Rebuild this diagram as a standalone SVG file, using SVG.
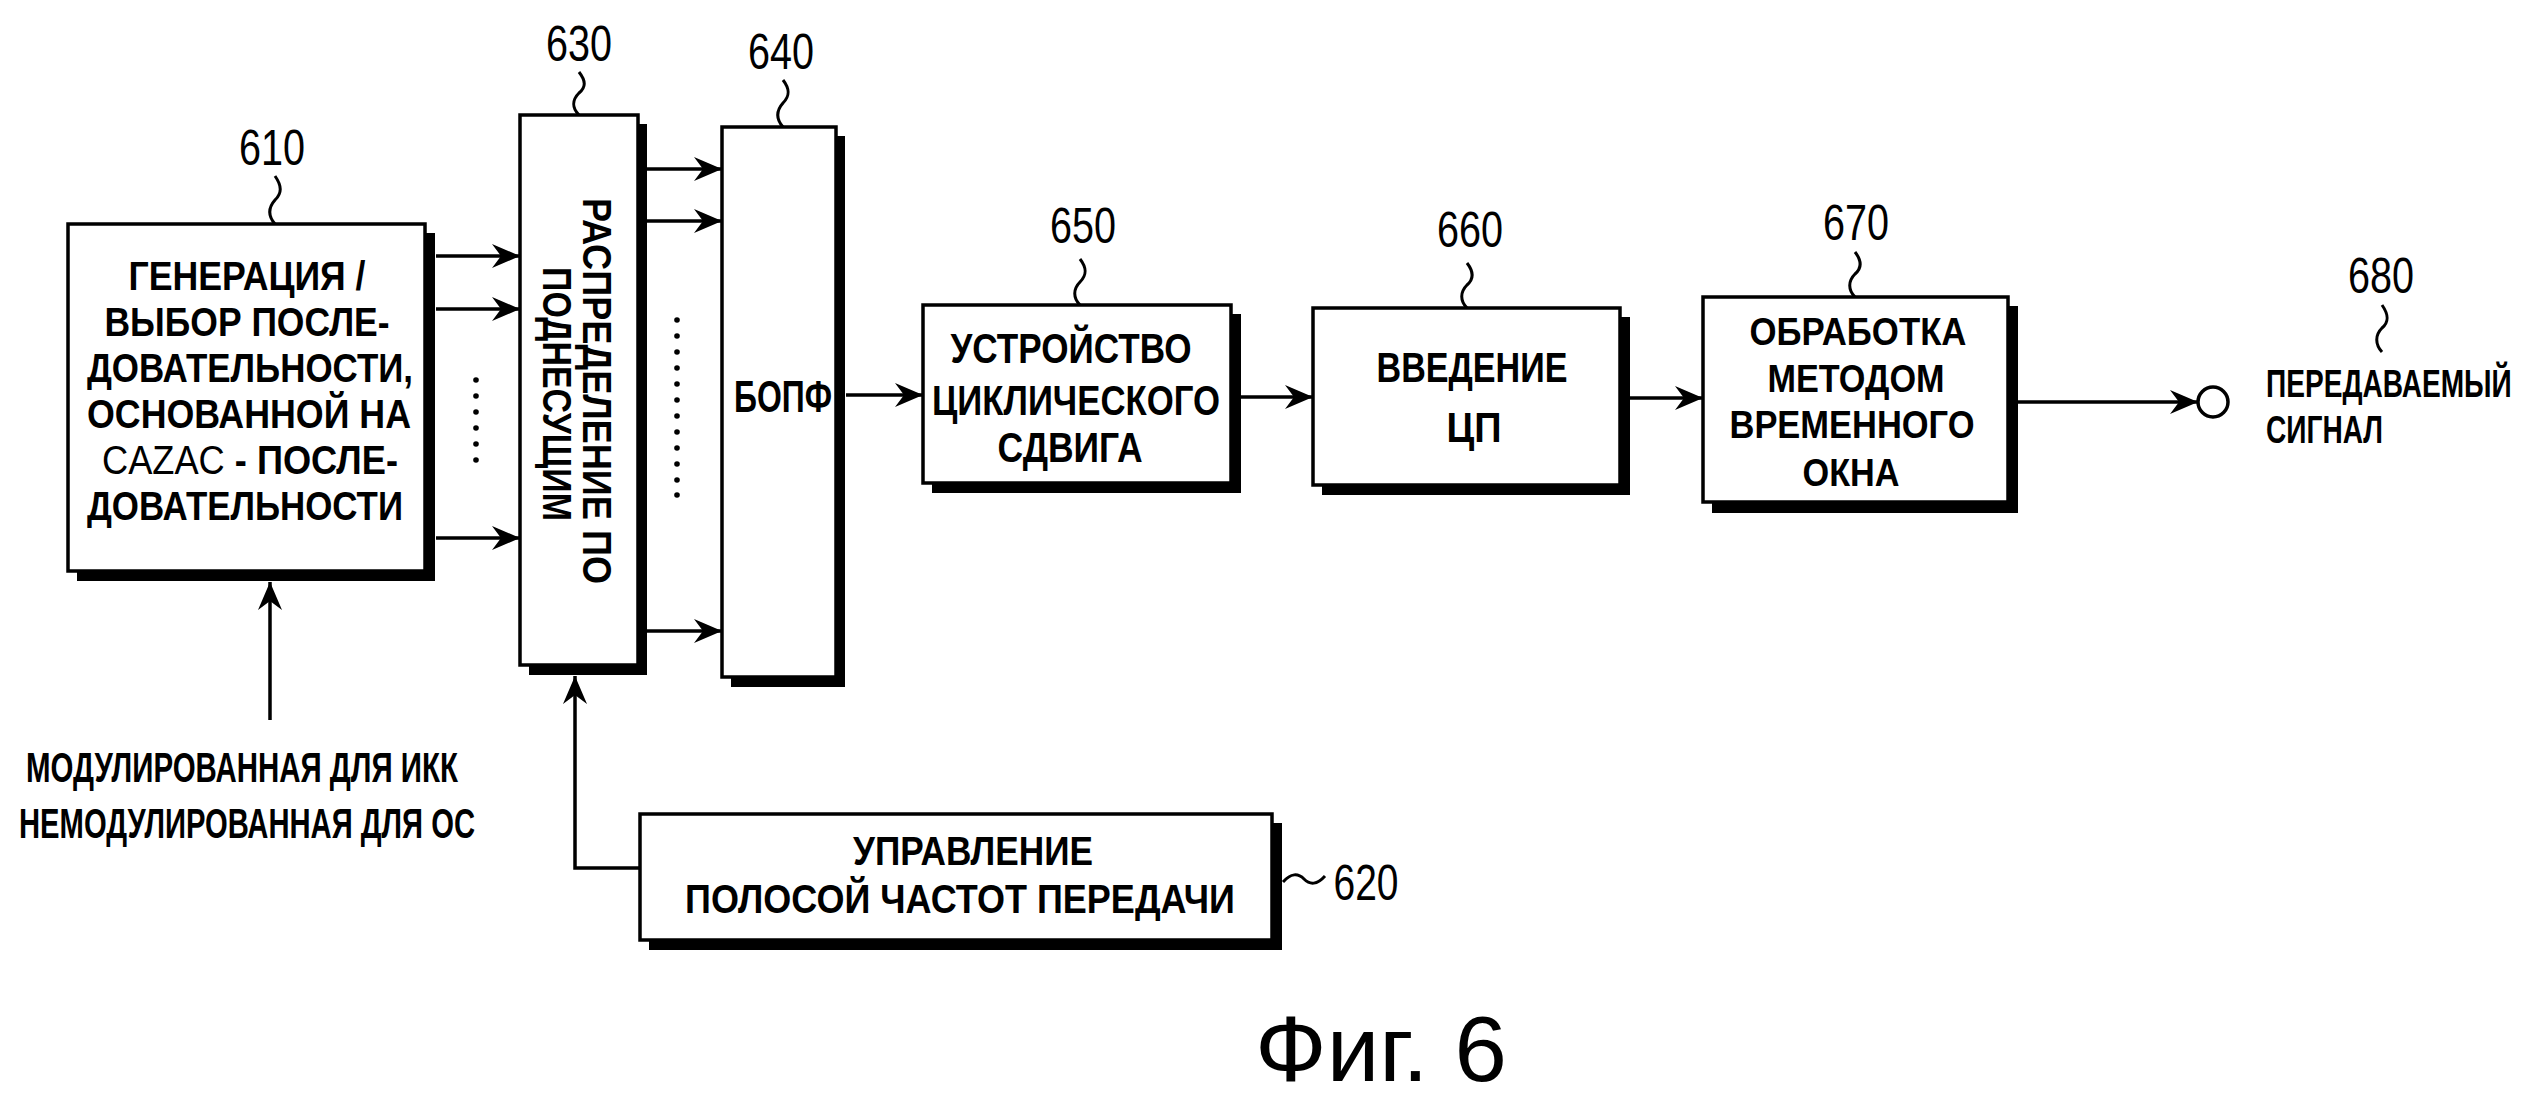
<svg xmlns="http://www.w3.org/2000/svg" width="2534" height="1098" viewBox="0 0 2534 1098">
<style>
.bg{fill:#fff}
.box{fill:#fff;stroke:#000;stroke-width:3.5}
.sh{fill:#000}
.t{font-family:"Liberation Sans",Arial,sans-serif;font-weight:bold;fill:#000;text-anchor:middle}
.tl{font-family:"Liberation Sans",Arial,sans-serif;font-weight:bold;fill:#000;text-anchor:start}
.n{font-family:"Liberation Sans",Arial,sans-serif;font-weight:normal;fill:#000;text-anchor:middle;font-size:50px}
.c{fill:none;stroke:#000;stroke-width:3.5}
.lead{fill:none;stroke:#000;stroke-width:3}
.dot{fill:#000}
</style>
<defs>
<marker id="ah" viewBox="-30 -15 32 30" refX="0" refY="0" markerWidth="32" markerHeight="30" markerUnits="userSpaceOnUse" orient="auto">
<path d="M0,0 L-28,-12 L-19,0 L-28,12 Z" fill="#000"/>
</marker>
</defs>
<rect class="bg" x="0" y="0" width="2534" height="1098"/>

<g id="connectors">
<path class="c" d="M436,256 H520" marker-end="url(#ah)"/>
<path class="c" d="M436,309 H520" marker-end="url(#ah)"/>
<path class="c" d="M436,538 H520" marker-end="url(#ah)"/>
<path class="c" d="M646,169 H722" marker-end="url(#ah)"/>
<path class="c" d="M646,221 H722" marker-end="url(#ah)"/>
<path class="c" d="M646,631 H722" marker-end="url(#ah)"/>
<path class="c" d="M846,395 H923" marker-end="url(#ah)"/>
<path class="c" d="M1241,397 H1313" marker-end="url(#ah)"/>
<path class="c" d="M1630,398 H1703" marker-end="url(#ah)"/>
<path class="c" d="M2018,402 H2198" marker-end="url(#ah)"/>
<path class="c" d="M270,720 V582" marker-end="url(#ah)"/>
<path class="c" d="M640,868 H575 V676" marker-end="url(#ah)"/>
<g id="dots1">
<circle class="dot" cx="476" cy="380" r="2.8"/>
<circle class="dot" cx="476" cy="396" r="2.8"/>
<circle class="dot" cx="476" cy="412" r="2.8"/>
<circle class="dot" cx="476" cy="428" r="2.8"/>
<circle class="dot" cx="476" cy="444" r="2.8"/>
<circle class="dot" cx="476" cy="460" r="2.8"/>
</g>
<g id="dots2">
<circle class="dot" cx="677" cy="320" r="2.8"/>
<circle class="dot" cx="677" cy="336" r="2.8"/>
<circle class="dot" cx="677" cy="352" r="2.8"/>
<circle class="dot" cx="677" cy="368" r="2.8"/>
<circle class="dot" cx="677" cy="384" r="2.8"/>
<circle class="dot" cx="677" cy="400" r="2.8"/>
<circle class="dot" cx="677" cy="416" r="2.8"/>
<circle class="dot" cx="677" cy="432" r="2.8"/>
<circle class="dot" cx="677" cy="448" r="2.8"/>
<circle class="dot" cx="677" cy="464" r="2.8"/>
<circle class="dot" cx="677" cy="480" r="2.8"/>
<circle class="dot" cx="677" cy="495" r="2.8"/>
</g>
</g>

<g id="n610">
<rect class="sh" x="77" y="233" width="358" height="348"/>
<rect class="box" x="68" y="224" width="357" height="347"/>
<text class="t" font-size="40" x="247" y="290" textLength="237" lengthAdjust="spacingAndGlyphs">ГЕНЕРАЦИЯ /</text>
<text class="t" font-size="40" x="247" y="336" textLength="285" lengthAdjust="spacingAndGlyphs">ВЫБОР ПОСЛЕ-</text>
<text class="t" font-size="40" x="250" y="382" textLength="326" lengthAdjust="spacingAndGlyphs">ДОВАТЕЛЬНОСТИ,</text>
<text class="t" font-size="40" x="249" y="428" textLength="324" lengthAdjust="spacingAndGlyphs">ОСНОВАННОЙ НА</text>
<text class="t" font-size="40" x="250" y="474" textLength="296" lengthAdjust="spacingAndGlyphs"><tspan font-weight="normal">CAZAC</tspan> - ПОСЛЕ-</text>
<text class="t" font-size="40" x="245" y="520" textLength="316" lengthAdjust="spacingAndGlyphs">ДОВАТЕЛЬНОСТИ</text>
<path class="lead" d="M275,176 c7,10 7,17 0,24 c-7,8 -7,16 0,24"/>
<text class="n" x="272" y="165" textLength="66" lengthAdjust="spacingAndGlyphs">610</text>
</g>

<g id="n630">
<rect class="sh" x="529" y="124" width="118" height="551"/>
<rect class="box" x="520" y="115" width="118" height="550"/>
<text class="t" font-size="40" transform="translate(583,391) rotate(90)" textLength="386" lengthAdjust="spacingAndGlyphs">РАСПРЕДЕЛЕНИЕ ПО</text>
<text class="t" font-size="40" transform="translate(543,394) rotate(90)" textLength="254" lengthAdjust="spacingAndGlyphs">ПОДНЕСУЩИМ</text>
<path class="lead" d="M579,72 c7,9 7,15 0,21 c-7,7 -7,15 0,22"/>
<text class="n" x="579" y="61" textLength="66" lengthAdjust="spacingAndGlyphs">630</text>
</g>

<g id="n640">
<rect class="sh" x="731" y="136" width="114" height="551"/>
<rect class="box" x="722" y="127" width="114" height="550"/>
<text class="t" font-size="44" x="783" y="412" textLength="98" lengthAdjust="spacingAndGlyphs">БОПФ</text>
<path class="lead" d="M783,80 c7,9 7,16 0,23 c-7,8 -7,16 0,24"/>
<text class="n" x="781" y="69" textLength="66" lengthAdjust="spacingAndGlyphs">640</text>
</g>

<g id="n650">
<rect class="sh" x="932" y="314" width="309" height="179"/>
<rect class="box" x="923" y="305" width="308" height="178"/>
<text class="t" font-size="43" x="1071" y="363" textLength="241" lengthAdjust="spacingAndGlyphs">УСТРОЙСТВО</text>
<text class="t" font-size="43" x="1076" y="415" textLength="288" lengthAdjust="spacingAndGlyphs">ЦИКЛИЧЕСКОГО</text>
<text class="t" font-size="43" x="1070" y="462" textLength="145" lengthAdjust="spacingAndGlyphs">СДВИГА</text>
<path class="lead" d="M1080,259 c7,9 7,16 0,23 c-7,7 -7,16 0,23"/>
<text class="n" x="1083" y="243" textLength="66" lengthAdjust="spacingAndGlyphs">650</text>
</g>

<g id="n660">
<rect class="sh" x="1322" y="317" width="308" height="178"/>
<rect class="box" x="1313" y="308" width="307" height="177"/>
<text class="t" font-size="43" x="1472" y="382" textLength="191" lengthAdjust="spacingAndGlyphs">ВВЕДЕНИЕ</text>
<text class="t" font-size="43" x="1474" y="442" textLength="55" lengthAdjust="spacingAndGlyphs">ЦП</text>
<path class="lead" d="M1467,263 c7,9 7,16 0,22 c-7,7 -7,16 0,23"/>
<text class="n" x="1470" y="247" textLength="66" lengthAdjust="spacingAndGlyphs">660</text>
</g>

<g id="n670">
<rect class="sh" x="1712" y="306" width="306" height="207"/>
<rect class="box" x="1703" y="297" width="305" height="205"/>
<text class="t" font-size="38" x="1858" y="345" textLength="217" lengthAdjust="spacingAndGlyphs">ОБРАБОТКА</text>
<text class="t" font-size="38" x="1856" y="392" textLength="177" lengthAdjust="spacingAndGlyphs">МЕТОДОМ</text>
<text class="t" font-size="38" x="1852" y="438" textLength="245" lengthAdjust="spacingAndGlyphs">ВРЕМЕННОГО</text>
<text class="t" font-size="38" x="1851" y="486" textLength="97" lengthAdjust="spacingAndGlyphs">ОКНА</text>
<path class="lead" d="M1855,252 c7,9 7,16 0,22 c-7,7 -7,16 0,23"/>
<text class="n" x="1856" y="240" textLength="66" lengthAdjust="spacingAndGlyphs">670</text>
</g>

<g id="n680">
<circle cx="2213" cy="402" r="15" fill="#fff" stroke="#000" stroke-width="3.5"/>
<text class="tl" font-size="38" transform="translate(2266,397) scale(0.74,1)">ПЕРЕДАВАЕМЫЙ</text>
<text class="tl" font-size="38" transform="translate(2266,443) scale(0.74,1)">СИГНАЛ</text>
<path class="lead" d="M2382,305 c7,10 7,17 0,23 c-7,7 -7,16 0,24"/>
<text class="n" x="2381" y="293" textLength="66" lengthAdjust="spacingAndGlyphs">680</text>
</g>

<g id="n620">
<rect class="sh" x="649" y="823" width="633" height="127"/>
<rect class="box" x="640" y="814" width="632" height="126"/>
<text class="t" font-size="41" x="973" y="865" textLength="240" lengthAdjust="spacingAndGlyphs">УПРАВЛЕНИЕ</text>
<text class="t" font-size="41" x="960" y="913" textLength="550" lengthAdjust="spacingAndGlyphs">ПОЛОСОЙ ЧАСТОТ ПЕРЕДАЧИ</text>
<path class="lead" d="M1283,882 c8,-9 15,-9 21,-3 c6,6 13,6 21,-3"/>
<text class="n" x="1366" y="900" textLength="65" lengthAdjust="spacingAndGlyphs">620</text>
</g>

<g id="input">
<text class="t" font-size="42" x="242" y="782" textLength="432" lengthAdjust="spacingAndGlyphs">МОДУЛИРОВАННАЯ ДЛЯ ИКК</text>
<text class="t" font-size="42" x="247" y="838" textLength="456" lengthAdjust="spacingAndGlyphs">НЕМОДУЛИРОВАННАЯ ДЛЯ ОС</text>
</g>

<g id="caption">
<text font-family="Liberation Sans, Arial, sans-serif" font-size="92" x="1255" y="1081" textLength="252" lengthAdjust="spacingAndGlyphs">Фиг. 6</text>
</g>
</svg>
